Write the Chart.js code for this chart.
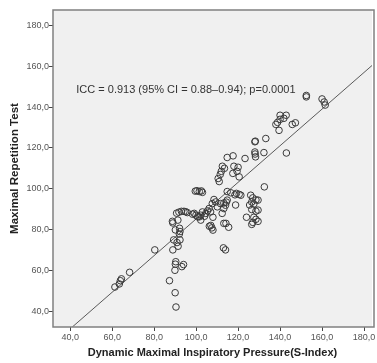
<!DOCTYPE html>
<html>
<head>
<meta charset="utf-8">
<script src="https://cdn.jsdelivr.net/npm/chart.js@4.4.1/dist/chart.umd.min.js"></script>
<style>
    html, body { margin: 0; padding: 0; background: #fff; }
</style>
</head>
<body>
<canvas id="iccChart" width="377" height="363"></canvas>
<script>
// Dynamic maximal inspiratory pressure (S-Index) vs maximal repetition test
const pressureX = [
    61.3, 63.4, 63.9, 64.4, 68.3, 80.3,
    87.3, 90.0, 90.4, 89.9, 90.1, 90.3, 93.2, 94.0, 88.9, 89.3, 90.9, 91.4, 92.3,
    90.1, 92.1, 92.3, 92.0, 88.7, 88.9, 91.3, 90.7, 91.8, 93.0, 94.2, 95.0, 95.8,
    99.6, 100.4, 101.5, 102.5, 103.0,
    108.5, 109.3, 107.7, 111.6, 113.2, 114.4, 114.0, 110.1, 106.2, 106.9, 105.4, 104.6,
    102.2, 100.7, 99.9, 99.1, 98.3, 112.4, 113.2, 114.8, 103.0, 101.5, 102.2, 104.0, 108.0,
    114.8, 116.5, 118.5, 119.2, 120.5, 121.3, 118.8,
    126.0, 127.0, 128.5, 126.5, 125.5, 127.5, 126.5, 128.5, 124.0, 127.5, 128.5, 129.5,
    127.0, 126.5, 129.5, 129.5, 132.5,
    115.5, 107.0, 107.5, 108.0, 113.2, 114.2, 113.0, 114.0, 106.3,
    114.8, 117.6, 123.3, 128.0, 128.1, 128.3, 132.3, 143.0,
    112.5, 113.5, 112.0, 111.5, 110.5, 111.0, 118.0, 120.0, 119.5, 117.5, 120.5,
    128.0, 128.2, 133.2, 139.5, 138.0, 138.8, 140.0, 141.8, 140.0, 142.9, 145.8, 147.3,
    152.5, 152.5, 160.0, 161.0, 161.5
];
const repetitionY = [
    51.8, 53.3, 54.9, 55.8, 59.0, 70.0,
    54.9, 49.0, 42.0, 60.0, 63.0, 64.2, 61.8, 62.8, 70.0, 74.9, 73.6, 71.8, 74.9,
    79.8, 80.6, 79.0, 77.8, 84.0, 83.2, 84.6, 88.0, 88.5, 88.9, 88.9, 88.7, 88.3,
    98.8, 99.0, 98.6, 98.9, 98.2,
    94.7, 93.5, 92.7, 92.7, 93.0, 93.4, 91.9, 91.1, 90.3, 88.6, 89.1, 87.9,
    87.0, 86.2, 87.0, 87.9, 87.5, 87.9, 90.3, 94.4, 88.6, 86.2, 84.6, 86.5, 86.0,
    98.6, 98.0, 97.0, 97.7, 97.2, 96.8, 92.0,
    96.8, 95.5, 94.5, 93.5, 92.0, 92.5, 89.8, 89.0, 86.0, 86.0, 85.0, 84.0,
    83.5, 82.5, 94.4, 89.5, 100.9,
    81.1, 82.0, 80.8, 79.7, 83.0, 83.0, 71.0, 70.0, 81.6,
    115.3, 116.1, 114.8, 118.0, 117.0, 115.6, 117.7, 117.5,
    111.0, 110.0, 108.5, 107.0, 105.0, 103.5, 111.0, 110.5, 108.5, 107.5, 105.8,
    123.0, 123.3, 124.6, 128.6, 131.5, 132.5, 134.0, 134.5, 136.0, 136.0, 131.5, 132.3,
    145.7, 145.0, 144.0, 142.5, 141.0
];

const xTicks = [40, 60, 80, 100, 120, 140, 160, 180];
const yTicks = [40, 60, 80, 100, 120, 140, 160, 180];
const xRange = [31.8, 183.8];
const yRange = [32.2, 187.6];

// fitted line
const fitLineX = [41.0, 183.8];
const fitLineY = [32.2, 160.4];

const iccLabel = 'ICC = 0.913 (95% CI = 0.88\u20130.94); p=0.0001';
const iccAt = [42.9, 148.2];

const FONT = "'Liberation Sans', Arial, sans-serif";

const plotFrame = {
    id: 'plotFrame',
    beforeDraw(chart) {
        const { ctx, chartArea: a } = chart;
        ctx.save();
        ctx.fillStyle = '#f0f0f0';
        ctx.fillRect(a.left, a.top, a.right - a.left, a.bottom - a.top);
        ctx.restore();
    },
    afterDraw(chart) {
        const { ctx, chartArea: a, scales } = chart;
        ctx.save();
        ctx.strokeStyle = '#808080';
        ctx.lineWidth = 1.5;
        ctx.strokeRect(a.left, a.top, a.right - a.left + 2, a.bottom - a.top);
        ctx.fillStyle = '#333';
        ctx.font = '11px ' + FONT;
        ctx.textAlign = 'left';
        ctx.textBaseline = 'middle';
        ctx.fillText(iccLabel, scales.x.getPixelForValue(iccAt[0]), scales.y.getPixelForValue(iccAt[1]));
        ctx.restore();
    }
};

const tickFmt = v => Number(v).toFixed(1).replace('.', ',');

new Chart(document.getElementById('iccChart'), {
    type: 'scatter',
    data: {
        datasets: [
            {
                label: 'Subjects',
                data: pressureX.map((x, i) => ({ x, y: repetitionY[i] })),
                pointStyle: 'circle',
                pointRadius: 3.3,
                backgroundColor: 'rgba(0,0,0,0)',
                borderColor: '#3a3a3a',
                borderWidth: 1
            },
            {
                type: 'line',
                label: 'Fit',
                data: fitLineX.map((x, i) => ({ x, y: fitLineY[i] })),
                borderColor: '#5a5a5a',
                borderWidth: 1,
                pointRadius: 0,
                fill: false
            }
        ]
    },
    options: {
        responsive: false,
        animation: false,
        layout: { padding: { top: 10, right: 0, left: 0, bottom: 0 } },
        plugins: { legend: { display: false }, tooltip: { enabled: false } },
        scales: {
            x: {
                type: 'linear',
                min: xRange[0],
                max: xRange[1],
                afterBuildTicks: s => { s.ticks = xTicks.map(v => ({ value: v })); },
                afterFit: s => { s.height = 36; },
                grid: { drawOnChartArea: false, drawTicks: true, tickLength: 4, color: '#444' },
                border: { display: false },
                ticks: { callback: tickFmt, color: '#555', font: { family: FONT, size: 9 }, padding: 1, maxRotation: 0, autoSkip: false },
                title: { display: true, text: 'Dynamic Maximal Inspiratory Pressure(S-Index)', color: '#222', font: { family: FONT, size: 11, weight: 'bold' }, padding: { top: 0, bottom: 3.4 } }
            },
            y: {
                type: 'linear',
                min: yRange[0],
                max: yRange[1],
                afterBuildTicks: s => { s.ticks = yTicks.map(v => ({ value: v })); },
                afterFit: s => { s.width = 53; },
                grid: { drawOnChartArea: false, drawTicks: true, tickLength: 4, color: '#444' },
                border: { display: false },
                ticks: { callback: tickFmt, color: '#555', font: { family: FONT, size: 9 }, padding: 0, autoSkip: false },
                title: { display: true, text: 'Maximal Repetition Test', color: '#222', font: { family: FONT, size: 11.5, weight: 'bold' }, padding: { top: 8.4, bottom: 0 } }
            }
        }
    },
    plugins: [plotFrame]
});
</script>
</body>
</html>
